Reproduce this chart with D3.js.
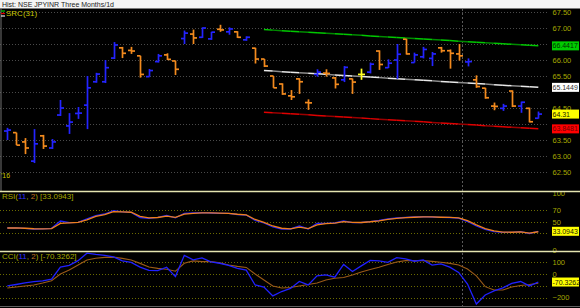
<!DOCTYPE html>
<html>
<head>
<meta charset="utf-8">
<script src="https://cdnjs.cloudflare.com/ajax/libs/d3/7.8.5/d3.min.js"></script>
<style>
  html, body { margin: 0; padding: 0; background: #000; }
  svg { display: block; }
  text { font-family: "Liberation Sans", Arial, sans-serif; }
</style>
</head>
<body>
<svg id="chart" width="580" height="308"></svg>
<script>
// price bars, one per trading day
const opens = [63.78, 63.73, 63.44, 62.84, 63.63, 63.25, 64.28, 63.94, 64.33, 64.59,
  65.32, 65.32, 66.06, 66.38, 66.30, 66.13, 65.48, 65.95, 66.16, 65.97,
  66.67, 66.81, 66.71, 66.66, 66.96, 66.88, 66.88, 66.63, 66.37, 66.03,
  65.50, 65.25, 64.88, 65.41, 64.67, 65.55, 65.59, 65.44, 65.38, 65.41,
  65.55, 65.62, 66.28, 65.76, 66.00, 66.65, 65.92, 66.10, 66.05, 66.38,
  66.29, 66.19, 65.94, 65.38, 65.12, 64.56, 64.49, 65.03, 64.56, 64.49, 64.18];
const highs = [63.88, 63.73, 63.56, 63.84, 63.66, 63.53, 64.75, 64.34, 64.53, 65.50,
  65.60, 66.00, 66.56, 66.41, 66.41, 66.13, 65.72, 66.19, 66.21, 65.98,
  66.92, 66.95, 67.02, 66.88, 67.10, 67.02, 66.90, 66.74, 66.38, 66.03,
  65.50, 65.27, 65.06, 65.43, 64.77, 65.71, 65.71, 65.47, 65.81, 65.42,
  65.73, 65.92, 66.30, 66.02, 66.50, 66.66, 66.23, 66.41, 66.25, 66.41,
  66.33, 66.50, 66.05, 65.52, 65.13, 64.67, 64.63, 65.05, 64.70, 64.51, 64.39];
const lows = [63.50, 63.34, 63.06, 62.78, 63.22, 63.22, 64.25, 63.69, 64.16, 63.84,
  65.29, 65.28, 66.03, 66.06, 66.19, 65.45, 65.48, 65.92, 66.00, 65.53,
  66.50, 66.50, 66.69, 66.63, 66.88, 66.79, 66.69, 66.60, 65.89, 65.78,
  65.13, 64.91, 64.75, 64.94, 64.44, 65.48, 65.48, 65.11, 65.31, 64.94,
  65.38, 65.58, 65.69, 65.75, 65.41, 66.17, 65.92, 66.05, 65.81, 66.23,
  65.73, 65.98, 65.80, 65.13, 64.79, 64.43, 64.41, 64.53, 64.35, 64.05, 64.17];
const closes = [63.81, 63.34, 63.25, 63.38, 63.31, 63.44, 64.50, 64.06, 64.34, 65.13,
  65.56, 65.76, 66.47, 66.21, 66.28, 65.55, 65.67, 66.13, 66.02, 65.71,
  66.84, 66.69, 67.00, 66.87, 66.94, 66.97, 66.71, 66.71, 66.03, 65.81,
  65.13, 64.94, 64.85, 65.32, 64.66, 65.62, 65.58, 65.24, 65.77, 65.31,
  65.55, 65.87, 65.86, 65.90, 66.18, 66.19, 66.16, 66.33, 66.19, 66.29,
  66.21, 66.13, 65.95, 65.17, 64.82, 64.55, 64.56, 64.56, 64.68, 64.07, 64.31];
const highlightBar = 40;

// standard regression channel SRC(31): [start bar, end bar]
const srcBars = [29, 60];
const srcUpper = [66.95, 66.4417];
const srcMid = [65.67, 65.1449];
const srcLower = [64.37, 63.8481];

// RSI(11, 2) and its signal
const rsi = [38.9, 39.3, 38.1, 37.2, 37.5, 38.4, 51.3, 48.3, 49.0, 55.2,
  61.0, 63.7, 69.6, 67.3, 66.7, 57.5, 56.1, 57.9, 61.1, 57.0,
  65.0, 65.5, 66.0, 65.5, 65.0, 65.0, 62.8, 61.9, 52.2, 47.8,
  40.7, 37.2, 37.2, 42.5, 37.2, 46.9, 47.3, 47.8, 51.3, 48.3,
  48.7, 50.4, 52.2, 54.9, 56.6, 57.5, 58.4, 58.9, 58.4, 57.9,
  57.5, 56.6, 50.4, 42.5, 36.3, 32.7, 31.3, 31.3, 32.4, 29.2, 33.0943];
const rsiSignal = [38.9, 39.2, 38.5, 37.6, 37.5, 38.0, 47.0, 48.0, 48.8, 53.5,
  59.5, 62.8, 68.0, 67.5, 66.8, 59.5, 56.8, 57.5, 60.0, 57.8,
  63.5, 65.0, 65.8, 65.6, 65.2, 65.0, 63.3, 62.2, 54.0, 49.0,
  42.5, 38.5, 37.5, 40.5, 38.0, 44.5, 46.8, 47.5, 50.2, 48.8,
  48.7, 50.0, 51.7, 54.2, 56.0, 57.2, 58.0, 58.7, 58.5, 58.0,
  57.6, 56.9, 52.0, 44.5, 38.0, 34.0, 31.8, 31.4, 32.1, 30.0, 32.3];

// CCI(11, 2) and its signal
const cci = [-103, -91, -78, -67, -61, -47, 54, 69, 109, 171,
  161, 153, 140, 107, 94, 54, 27, 25, 54, -25,
  153, 115, 132, 98, 87, 69, 44, 29, -95, -112,
  -187, -150, -124, -66, -95, -19, -11, -30, 77, 18,
  65, 111, 107, 94, 134, 124, 104, 115, 71, 82,
  54, 10, -87, -255, -179, -145, -120, -82, -66, -103, -70.3262];
const cciSignal = [-120, -112, -103, -95, -78, -59, -3, 31, 73, 115,
  129, 136, 138, 128, 115, 86, 56, 44, 37, 20,
  87, 107, 101, 101, 90, 73, 61, 52, -3, -53,
  -103, -120, -116, -103, -91, -78, -53, -39, -32, -11,
  14, 35, 54, 77, 98, 109, 109, 109, 103, 96,
  86, 73, 39, -19, -109, -137, -137, -112, -99, -91, -81];

const priceTicks = [62.5, 63, 63.5, 64, 64.5, 65, 65.5, 66, 66.5, 67, 67.5];
const rsiTicks = [0, 30, 50, 70, 100];
const cciTicks = [-200, -100, 0, 100];

const svg = d3.select('#chart');
const W = 580, axisX = 552, plotRight = 548;

// scales
const x = d3.scaleLinear().domain([0, opens.length - 1]).range([7.3, 538.3]);
const yPrice = d3.scaleLinear().domain([62.5, 67.5]).range([172, 12]);
const yRsi = d3.scaleLinear().domain([0, 100]).range([250, 193.5]);
const yCci = d3.scaleLinear().domain([-200, 100]).range([297.5, 261.7]);

// y positions of the value boxes, labels right under them are hidden
const boxYs = [yPrice(srcUpper[1]), yPrice(srcMid[1]), yPrice(closes[closes.length - 1]),
  yPrice(srcLower[1]), yRsi(rsi[rsi.length - 1]), yCci(cci[cci.length - 1])];
const covered = y => boxYs.some(b => Math.abs(b - y) < 5.5);

// backgrounds
svg.append('rect').attr('width', W).attr('height', 308).attr('fill', '#000');
svg.append('rect').attr('width', W).attr('height', 8.5).attr('fill', '#f4f4f4');
svg.append('text').attr('x', 2).attr('y', 7)
  .attr('font-size', '7px').attr('fill', '#222')
  .text('Hist: NSE JPYINR Three Months/1d');

// gridlines + right axis labels
function pane(scale, ticks, labelTicks, gridColor, labelColor, fmt) {
  const g = svg.append('g');
  g.selectAll('line').data(ticks).enter().append('line')
    .attr('x1', 0).attr('x2', plotRight)
    .attr('y1', d => Math.round(scale(d)) + 0.5)
    .attr('y2', d => Math.round(scale(d)) + 0.5)
    .attr('stroke', gridColor).attr('stroke-dasharray', '1,2');
  const ax = d3.axisRight(scale).tickValues(labelTicks.filter(d => !covered(scale(d))))
    .tickSize(0).tickPadding(0).tickFormat(fmt);
  const a = svg.append('g').attr('transform', `translate(${axisX + 0.5},0)`).call(ax);
  a.select('.domain').remove();
  a.selectAll('text').attr('fill', labelColor).attr('font-size', '7.5px')
    .attr('font-family', '"Liberation Sans", Arial, sans-serif');
}
pane(yPrice, priceTicks, priceTicks, '#4a4a4a', '#a6a600', d3.format('.2f'));
pane(yRsi, rsiTicks.filter(d => d > 0 && d < 100), rsiTicks, '#6a6a00', '#a6a600', d3.format('d'));
pane(yCci, cciTicks, cciTicks, '#6a6a00', '#a6a600', d3.format('d'));

// left border of the price pane and the crosshair
svg.append('line').attr('x1', 1).attr('x2', 1).attr('y1', 9).attr('y2', 191)
  .attr('stroke', '#707070');
svg.append('line').attr('x1', 462.5).attr('x2', 462.5).attr('y1', 9).attr('y2', 306)
  .attr('stroke', '#5a5a5a').attr('stroke-dasharray', '2,2');

// SRC channel, drawn bar by bar in two shades
function channel(vals, c1, c2) {
  const yy = d3.scaleLinear().domain(srcBars).range(vals);
  const g = svg.append('g');
  for (let i = srcBars[0]; i < srcBars[1]; i++) {
    g.append('line')
      .attr('x1', x(i)).attr('x2', x(i + 1))
      .attr('y1', yPrice(yy(i))).attr('y2', yPrice(yy(i + 1)))
      .attr('stroke', (i - srcBars[0]) % 3 === 1 ? c2 : c1)
      .attr('stroke-width', 1.5);
  }
}
channel(srcUpper, '#00c800', '#008a00');
channel(srcMid, '#e8e8e8', '#8c8c8c');
channel(srcLower, '#e00000', '#9a0000');

// OHLC bars
const bars = svg.append('g');
opens.forEach((o, i) => {
  let col = closes[i] >= o ? '#2424ff' : '#f28a1e';
  if (i === highlightBar) col = '#ffff20';
  const cx = Math.round(x(i)) + 0.5;
  const g = bars.append('g').attr('stroke', col).attr('stroke-width', 1.7);
  g.append('line').attr('x1', cx).attr('x2', cx)
    .attr('y1', yPrice(highs[i])).attr('y2', yPrice(lows[i]));
  g.append('line').attr('x1', cx - 3.5).attr('x2', cx)
    .attr('y1', yPrice(o)).attr('y2', yPrice(o));
  g.append('line').attr('x1', cx).attr('x2', cx + 3.5)
    .attr('y1', yPrice(closes[i])).attr('y2', yPrice(closes[i]));
});

// indicator lines
function series(vals, scale, col, w) {
  const line = d3.line().x((d, i) => x(i)).y(d => scale(d));
  svg.append('path').datum(vals).attr('d', line)
    .attr('fill', 'none').attr('stroke', col).attr('stroke-width', w);
}
series(rsi, yRsi, '#2020ff', 1.3);
series(rsiSignal, yRsi, '#f0801a', 1.3);
series(cciSignal, yCci, '#9a5a18', 1.1);
series(cci, yCci, '#2020ff', 1.3);

// pane separators
[191.5, 251.5].forEach(y => {
  svg.append('line').attr('x1', 0).attr('x2', W).attr('y1', y).attr('y2', y)
    .attr('stroke', '#e4e4b0').attr('stroke-width', 1.5);
});
svg.append('line').attr('x1', 0).attr('x2', W).attr('y1', 306.5).attr('y2', 306.5)
  .attr('stroke', '#606060');

// value boxes on the right axis
function valueBox(y, txt, bg, fg) {
  svg.append('rect').attr('x', axisX).attr('y', y - 4.5).attr('width', W - axisX - 1).attr('height', 9)
    .attr('fill', bg);
  svg.append('text').attr('x', axisX + 0.5).attr('y', y + 2.5).attr('font-size', '7px')
    .attr('fill', fg).text(txt);
}
valueBox(boxYs[0], srcUpper[1].toFixed(4), '#00cc00', '#003000');
valueBox(boxYs[1], srcMid[1].toFixed(4), '#ffffff', '#333333');
valueBox(boxYs[2], closes[closes.length - 1].toFixed(2), '#ffff00', '#202000');
valueBox(boxYs[3], srcLower[1].toFixed(4), '#ff0000', '#700000');
valueBox(boxYs[4], rsi[rsi.length - 1].toFixed(4), '#ffff00', '#202000');
valueBox(boxYs[5], cci[cci.length - 1].toFixed(4), '#ffff00', '#202000');

// legends
[['#00c800', 11], ['#e00000', 13.5], ['#e8e8e8', 16]].forEach(([c, y]) => {
  svg.append('line').attr('x1', 1).attr('x2', 5).attr('y1', y).attr('y2', y)
    .attr('stroke', c).attr('stroke-width', 1.2);
});
svg.append('text').attr('x', 6).attr('y', 16).attr('font-size', '8px')
  .attr('fill', '#c8c800').text('SRC(31)');

function indLegend(y, name, val) {
  const t = svg.append('text').attr('x', 2).attr('y', y).attr('font-size', '8px').attr('fill', '#a8a800');
  t.append('tspan').text(name + '(');
  t.append('tspan').attr('fill', '#3030ff').text('11');
  t.append('tspan').text(', ');
  t.append('tspan').attr('fill', '#c07020').text('2');
  t.append('tspan').text(') [' + val + ']');
}
indLegend(199, 'RSI', rsi[rsi.length - 1].toFixed(4));
indLegend(259, 'CCI', cci[cci.length - 1].toFixed(4));

svg.append('text').attr('x', 1).attr('y', 178).attr('font-size', '7px')
  .attr('fill', '#c8c800').text("'16");
</script>
</body>
</html>
